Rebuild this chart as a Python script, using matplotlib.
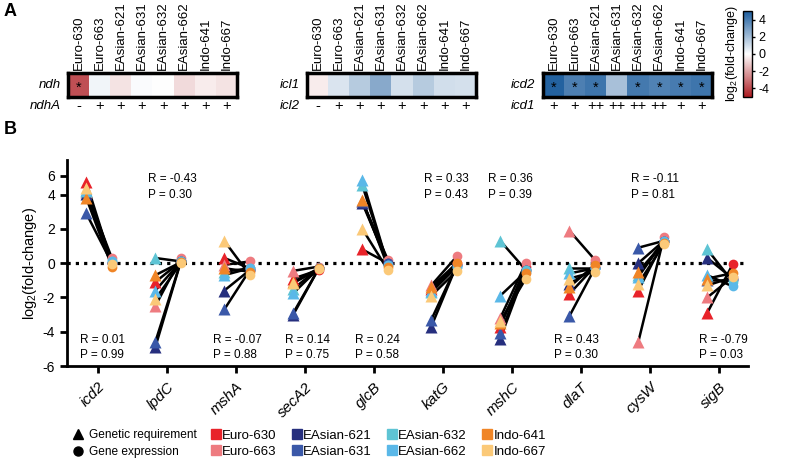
import numpy as np
import matplotlib
matplotlib.use('Agg')
import matplotlib.pyplot as plt
from matplotlib.colors import LinearSegmentedColormap
from matplotlib.lines import Line2D

plt.rcParams['font.family'] = ['Liberation Sans', 'DejaVu Sans']
plt.rcParams['mathtext.default'] = 'regular'
plt.rcParams['axes.unicode_minus'] = False

# strains
strains = ['Euro-630', 'Euro-663', 'EAsian-621', 'EAsian-631',
           'EAsian-632', 'EAsian-662', 'Indo-641', 'Indo-667']
colors = ['#e8232a', '#ee7b80', '#262f7e', '#3a58a8',
          '#5ec4d4', '#5ab8e8', '#f08526', '#fbc978']

# panel A: heatmaps, log2 fold-change
ndh = [-3.8, 0.3, -0.6, 0.1, 0.0, -0.8, -0.4, -0.6]
ndh_star = [1, 0, 0, 0, 0, 0, 0, 0]
ndhA = ['-', '+', '+', '+', '+', '+', '+', '+']
icl1 = [-0.4, 0.8, 1.6, 2.6, 0.9, 1.6, 1.0, 0.9]
icl1_star = [0, 0, 0, 0, 0, 0, 0, 0]
icl2 = ['-', '+', '+', '+', '+', '+', '+', '+']
icd2_hm = [4.8, 3.9, 4.2, 1.9, 4.1, 3.8, 4.0, 4.2]
icd2_star = [1, 1, 1, 0, 1, 1, 1, 1]
icd1 = ['+', '+', '++', '++', '++', '++', '+', '+']

# panel B
genes = ['icd2', 'lpdC', 'mshA', 'secA2', 'glcB',
         'katG', 'mshC', 'dlaT', 'cysW', 'sigB']
# genetic requirement (triangles), strain order as above
req_icd2 = [5.3, 4.3, 4.1, 2.9, 4.4, 4.5, 3.8, 4.7]
req_lpdC = [-1.1, -2.5, -4.9, -4.6, 0.3, -1.6, -0.7, -2.1]
req_mshA = [0.3, -0.1, -1.6, -2.7, -0.5, -0.7, -0.3, 1.3]
req_secA2 = [-0.9, -0.45, -3.0, -2.9, -1.5, -1.75, -1.1, -1.16]
req_glcB = [0.8, 3.6, 3.5, 3.6, 5.0, 5.6, 3.7, 2.0]
req_katG = [-1.5, -1.3, -3.7, -3.3, -1.7, -1.6, -1.4, -1.9]
req_mshC = [-3.7, -3.2, -4.4, -4.1, 1.3, -1.9, -3.5, -3.4]
req_dlaT = [-1.8, 1.9, -1.2, -3.1, -0.3, -0.6, -1.4, -0.9]
req_cysW = [-1.6, -4.6, 0.0, 0.9, -0.7, -0.8, -0.5, -1.2]
req_sigB = [-2.9, -2.0, 0.3, -1.0, 0.8, -0.7, -0.9, -1.3]
# gene expression (circles)
exp_icd2 = [0.0, 0.3, 0.0, 0.0, 0.1, 0.1, -0.2, -0.05]
exp_lpdC = [0.1, 0.3, 0.1, 0.1, 0.1, 0.1, 0.05, 0.0]
exp_mshA = [-0.3, 0.1, -0.4, -0.4, -0.3, -0.3, -0.5, -0.7]
exp_secA2 = [-0.4, -0.2, -0.3, -0.3, -0.3, -0.3, -0.3, -0.35]
exp_glcB = [0.0, 0.2, 0.0, 0.0, -0.1, -0.1, -0.2, -0.4]
exp_katG = [0.0, 0.4, -0.1, -0.1, -0.2, -0.2, 0.0, -0.45]
exp_mshC = [-0.2, 0.0, -0.4, -0.4, -0.4, -0.5, -0.6, -0.9]
exp_dlaT = [-0.2, 0.2, -0.3, -0.3, -0.3, -0.3, -0.1, -0.5]
exp_cysW = [1.3, 1.5, 1.3, 1.3, 1.3, 1.3, 1.2, 1.1]
exp_sigB = [-0.05, -0.8, -0.9, -1.0, -1.1, -1.36, -0.58, -0.82]

req = [req_icd2, req_lpdC, req_mshA, req_secA2, req_glcB,
       req_katG, req_mshC, req_dlaT, req_cysW, req_sigB]
expr = [exp_icd2, exp_lpdC, exp_mshA, exp_secA2, exp_glcB,
        exp_katG, exp_mshC, exp_dlaT, exp_cysW, exp_sigB]

r_vals = ['0.01', '-0.43', '-0.07', '0.14', '0.24', '0.33', '0.36', '0.43', '-0.11', '-0.79']
p_vals = ['0.99', '0.30', '0.88', '0.75', '0.58', '0.43', '0.39', '0.30', '0.81', '0.03']
# where each stats label sits: 'top' or 'bot', and x offset from gene tick
stat_side = ['bot', 'top', 'bot', 'bot', 'bot', 'top', 'top', 'bot', 'top', 'bot']
stat_dx = [-0.26, -0.28, -0.33, -0.29, -0.28, -0.28, -0.35, -0.39, -0.28, -0.29]

W, H = 789, 458
fig = plt.figure(figsize=(W / 100, H / 100), dpi=100)

cmap = LinearSegmentedColormap.from_list('rb', ['#ac1a20', '#ffffff', '#1b5c9d'])


def heat(x0, vals, stars, signs, row, row2):
    ax = fig.add_axes([x0 / W, 1 - 97 / H, 169 / W, 24 / H])
    im = ax.imshow(np.array([vals]), cmap=cmap, vmin=-5, vmax=5, aspect='auto')
    for s in ax.spines.values():
        s.set_linewidth(2.5)
    ax.set_yticks([])
    ax.xaxis.tick_top()
    ax.set_xticks(range(8))
    ax.set_xticklabels(strains, rotation=90, fontsize=9.5)
    ax.tick_params(axis='x', length=0, pad=2)
    for i in range(8):
        if stars[i]:
            ax.text(i, 0.12, '*', ha='center', va='center', fontsize=10.5)
        ax.text(i, 0.88, signs[i], ha='center', va='center', fontsize=10.5, clip_on=False)
    ax.text(-0.85, 0, row, ha='right', va='center', style='italic', fontsize=9.5)
    ax.text(-0.85, 0.88, row2, ha='right', va='center', style='italic', fontsize=9.5)
    return im


heat(68, ndh, ndh_star, ndhA, 'ndh', 'ndhA')
heat(307, icl1, icl1_star, icl2, 'icl1', 'icl2')
im = heat(543, icd2_hm, icd2_star, icd1, 'icd2', 'icd1')

cax = fig.add_axes([743 / W, 1 - 97 / H, 9 / W, 86 / H])
cb = fig.colorbar(im, cax=cax, ticks=[4, 2, 0, -2, -4])
cb.outline.set_linewidth(1)
cax.tick_params(labelsize=9, length=2.5, width=1, pad=2)
cax.yaxis.set_label_position('left')
cax.set_ylabel('log$_2$(fold-change)', fontsize=9, labelpad=2)

fig.text(4 / W, 1 - 12 / H, 'A', fontsize=13, fontweight='bold', va='center')
fig.text(4 / W, 1 - 130 / H, 'B', fontsize=13, fontweight='bold', va='center')

# panel B, y axis compressed above 4
k = 0.545


def fwd(v):
    v = np.asarray(v, dtype=float)
    return np.where(v <= 4, v, 4 + (v - 4) * k)


def inv(v):
    v = np.asarray(v, dtype=float)
    return np.where(v <= 4, v, 4 + (v - 4) / k)


ax = fig.add_axes([67 / W, 1 - 366 / H, 681 / W, 206 / H])
ax.set_yscale('function', functions=(fwd, inv))
ax.set_ylim(-6, 7.7)
ax.set_xlim(-0.45, 9.42)
ax.axhline(0, color='black', lw=2.3, ls=(0, (1, 1.6)), zorder=1)

dt, dc = -0.17, 0.2
for g in range(len(genes)):
    for s in range(8):
        ax.plot([g + dt, g + dc], [req[g][s], expr[g][s]], color='black', lw=1.8, zorder=2,
                solid_capstyle='butt')
    for s in range(8):
        ax.plot(g + dt, req[g][s], marker='^', ms=8, color=colors[s], mec='none', zorder=3)
        ax.plot(g + dc, expr[g][s], marker='o', ms=7, color=colors[s], mec='none', zorder=3)
    y = 4.8 if stat_side[g] == 'top' else -4.92
    ax.text(g + stat_dx[g], y, 'R = %s\nP = %s' % (r_vals[g], p_vals[g]),
            ha='left', va='center', fontsize=8.5, linespacing=1.4)

for side in ['top', 'right']:
    ax.spines[side].set_visible(False)
ax.spines['left'].set_linewidth(2)
ax.spines['bottom'].set_linewidth(2)
ax.set_yticks([-6, -4, -2, 0, 2, 4, 6])
ax.yaxis.set_minor_locator(matplotlib.ticker.NullLocator())
ax.set_yticklabels(['-6', '-4', '-2', '0', '2', '4', '6'])
ax.set_xticks(range(len(genes)))
ax.set_xticklabels(genes, rotation=45, ha='right', rotation_mode='anchor',
                   style='italic', fontsize=11)
ax.tick_params(axis='both', width=2, length=5, labelsize=10)
ax.tick_params(axis='x', labelsize=11, pad=5)
ax.set_ylabel('log$_2$(fold-change)', fontsize=10.5, labelpad=3)

mk_handles = [Line2D([], [], marker='^', color='black', ls='none', ms=7.5),
              Line2D([], [], marker='o', color='black', ls='none', ms=6.5)]
fig.legend(mk_handles, ['Genetic requirement', 'Gene expression'], ncol=1,
           loc='center left', bbox_to_anchor=(72 / W, 1 - 443.5 / H),
           frameon=False, fontsize=8.6, handlelength=1.0, handletextpad=0.4,
           labelspacing=0.45, borderpad=0, borderaxespad=0)
col_handles = [Line2D([], [], marker='s', color=c, ls='none', ms=6.5) for c in colors]
fig.legend(col_handles, strains, ncol=4, loc='center left',
           bbox_to_anchor=(213 / W, 1 - 443.5 / H),
           frameon=False, fontsize=9.5, handlelength=0.5, handletextpad=0.2,
           columnspacing=1.3, labelspacing=0.3, borderpad=0, borderaxespad=0)

fig.savefig('out.png', dpi=100)
